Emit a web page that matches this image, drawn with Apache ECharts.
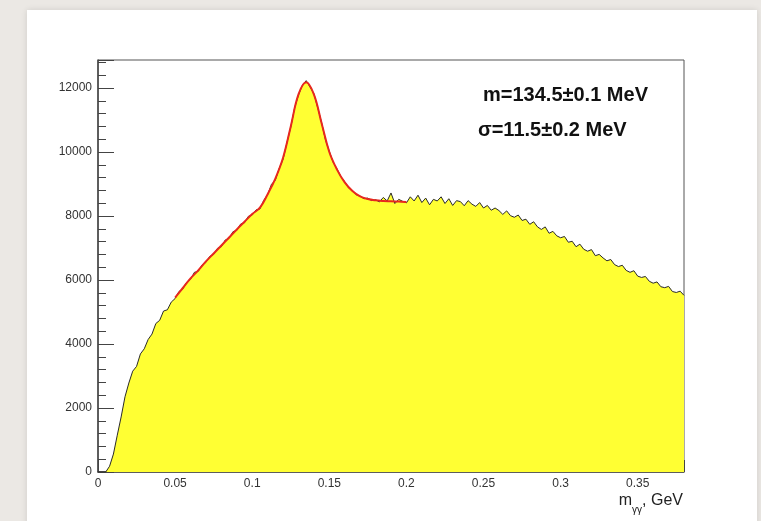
<!DOCTYPE html>
<html>
<head>
<meta charset="utf-8">
<script src="https://cdn.jsdelivr.net/npm/echarts@6/dist/echarts.min.js"></script>
<style>
  html, body { margin: 0; padding: 0; background: #ebe8e4; }
  #chart { width: 761px; height: 521px; }
</style>
</head>
<body>
<div id="chart"></div>
<script>
// histogram of m_gg, bins of 2.5 MeV starting at 0
const binWidth = 0.0025;
const counts = [
  0, 0, 0, 180, 560, 1150, 1720, 2350, 2780, 3150,
  3300, 3690, 3850, 4140, 4310, 4640, 4740, 5030, 5070, 5310,
  5420, 5640, 5720, 5930, 6020, 6240, 6270, 6470, 6550, 6740,
  6800, 6990, 7040, 7250, 7300, 7510, 7550, 7750, 7790, 7990,
  8030, 8190, 8220, 8490, 8670, 8990, 9120, 9490, 9770, 10290,
  10780, 11380, 11780, 12080, 12230, 12030, 11820, 11380, 10920, 10380,
  10020, 9680, 9470, 9230, 9070, 8880, 8800, 8660, 8620, 8540,
  8560, 8480, 8510, 8440, 8580, 8470, 8720, 8390, 8520, 8460,
  8410, 8600, 8470, 8650, 8420, 8560, 8350, 8520, 8470, 8600,
  8390, 8540, 8330, 8480, 8450, 8320, 8480, 8370, 8300, 8420,
  8250, 8330, 8180, 8250, 8170, 8050, 8160, 8010, 7960, 8030,
  7860, 7900, 7740, 7820, 7660, 7580, 7660, 7460, 7520, 7380,
  7320, 7360, 7180, 7210, 7040, 7120, 6960, 6900, 6950, 6760,
  6800, 6690, 6600, 6640, 6480, 6420, 6460, 6300, 6240, 6290,
  6120, 6080, 6110, 5960, 5900, 5940, 5790, 5760, 5800, 5640,
  5610, 5650, 5520
];

// fit curve (gaussian + background), 0.05 .. 0.2 GeV
const fitMass = [
  0.050, 0.055, 0.060, 0.065, 0.070, 0.075, 0.080, 0.085, 0.090, 0.095,
  0.100, 0.105, 0.110, 0.115, 0.120, 0.125, 0.130, 0.135, 0.140, 0.145,
  0.150, 0.155, 0.160, 0.165, 0.170, 0.175, 0.180, 0.185, 0.190, 0.195, 0.200
];
const fitValues = [
  5450, 5750, 6050, 6300, 6580, 6830, 7080, 7330, 7580, 7820,
  8060, 8260, 8680, 9170, 9820, 10800, 11800, 12180, 11800, 10900,
  10000, 9450, 9050, 8780, 8610, 8530, 8490, 8470, 8460, 8450, 8440
];

const fitText = ["m=134.5\u00b10.1 MeV", "\u03c3=11.5\u00b10.2 MeV"];

const histData = counts.map((c, i) => [i * binWidth, c]);
const fitData = fitMass.map((m, i) => [m, fitValues[i]]);

const axisText = { color: "#333", fontSize: 12, fontFamily: "Liberation Sans, Arial, sans-serif" };

const chart = echarts.init(document.getElementById("chart"));
chart.setOption({
  backgroundColor: "#ebe8e4",
  animation: false,
  grid: {
    left: 98, right: 77, top: 60, bottom: 49,
    show: true, borderColor: "#555", borderWidth: 1, backgroundColor: "#fff",
  },
  xAxis: {
    type: "value",
    min: 0, max: 0.38, interval: 0.05,
    axisLine: { lineStyle: { color: "#444", width: 1.5 } },
    axisTick: { inside: true, length: 12, lineStyle: { color: "#444" } },
    minorTick: { show: true, splitNumber: 5, length: 6, lineStyle: { color: "#444" } },
    axisLabel: Object.assign({ margin: 6, showMaxLabel: false }, axisText),
    splitLine: { show: false },
  },
  yAxis: {
    type: "value",
    min: 0, max: 12875, interval: 2000,
    axisLine: { show: true, lineStyle: { color: "#444", width: 1.5 } },
    axisTick: { show: true, inside: true, length: 16, lineStyle: { color: "#444" } },
    minorTick: { show: true, splitNumber: 5, length: 8, lineStyle: { color: "#444" } },
    axisLabel: Object.assign({ margin: 6, showMaxLabel: false, formatter: (v) => String(v) }, axisText),
    splitLine: { show: false },
  },
  graphic: [
    { type: "rect", z: -10, shape: { x: 27, y: 10, width: 730, height: 520 },
      style: { fill: "#fff", shadowBlur: 6, shadowColor: "rgba(0,0,0,0.12)" } },
    { type: "text", left: 483, top: 85, z: 10,
      style: { text: fitText[0], fill: "#111", font: "bold 20px Liberation Sans, Arial, sans-serif" } },
    { type: "text", left: 478, top: 120, z: 10,
      style: { text: fitText[1], fill: "#111", font: "bold 20px Liberation Sans, Arial, sans-serif" } },
    { type: "text", right: 78, top: 493, z: 10,
      style: {
        text: "{a|m}{s|\u03b3\u03b3}{a|, GeV}",
        fill: "#222",
        rich: {
          a: { fontSize: 16, lineHeight: 20, verticalAlign: "top", fontFamily: "Liberation Sans, Arial, sans-serif" },
          s: { fontSize: 10, lineHeight: 10, verticalAlign: "top", padding: [12, 0, 0, 0], fontFamily: "Liberation Sans, Arial, sans-serif" },
        },
      } },
  ],
  series: [
    {
      name: "data",
      type: "line",
      data: histData,
      showSymbol: false,
      lineStyle: { color: "#2a2a2a", width: 1 },
      areaStyle: { color: "#ffff33", opacity: 1 },
      z: 2,
    },
    {
      name: "fit",
      type: "line",
      data: fitData,
      smooth: 0.4,
      showSymbol: false,
      lineStyle: { color: "#e8281e", width: 2 },
      z: 3,
    },
  ],
});
</script>
</body>
</html>
